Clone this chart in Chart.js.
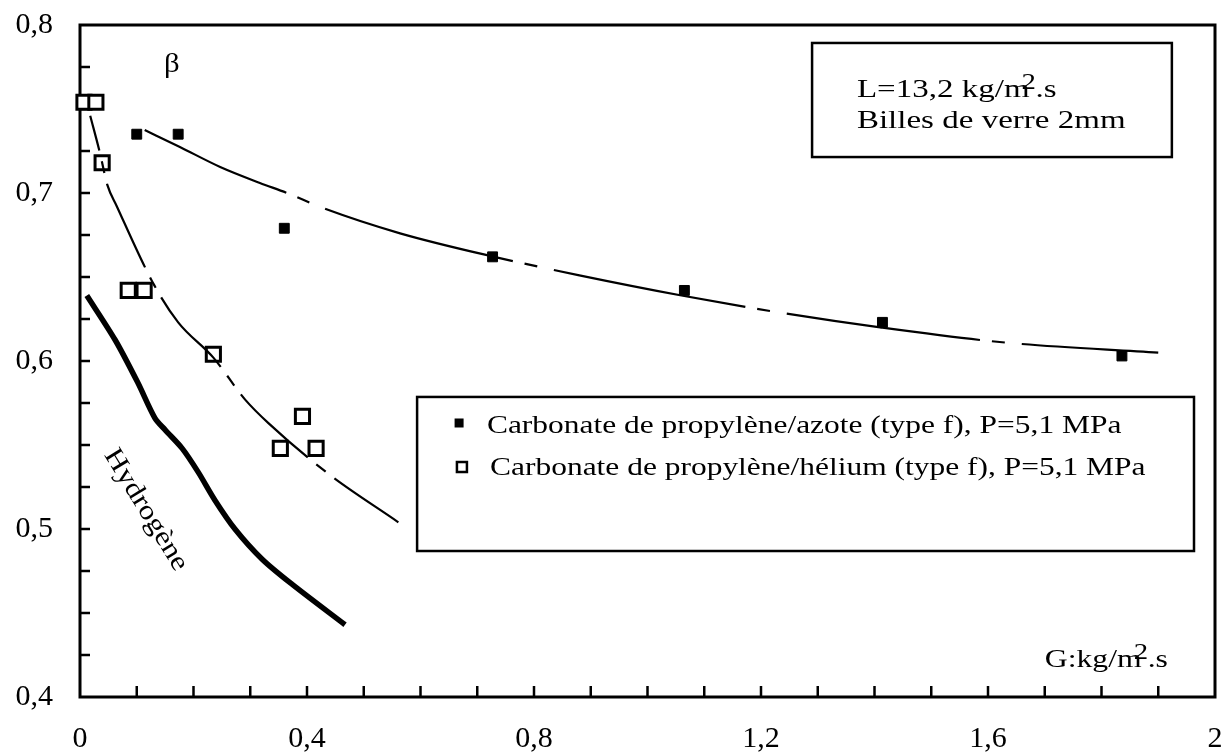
<!DOCTYPE html>
<html>
<head>
<meta charset="utf-8">
<script src="https://cdn.jsdelivr.net/npm/chart.js@4.4.0/dist/chart.umd.min.js"></script>
<style>
  body { margin: 0; background: #fff; }
  #cont { width: 1230px; height: 755px; position: relative; }
</style>
</head>
<body>
<div id="cont"><canvas id="grafico"></canvas></div>
<script>
// points mesurés
const azoteX = [0.10, 0.173, 0.36, 0.727, 1.065, 1.414, 1.836];
const azoteY = [0.735, 0.735, 0.679, 0.662, 0.642, 0.623, 0.603];
const heliumX = [0.007, 0.028, 0.039, 0.085, 0.113, 0.235, 0.353, 0.392, 0.416];
const heliumY = [0.754, 0.754, 0.718, 0.642, 0.642, 0.604, 0.548, 0.567, 0.548];

// courbes tracées
const azoteFitX = [0.114, 0.176, 0.247, 0.317, 0.365, 0.428, 0.564, 0.73, 0.88, 1.06, 1.23, 1.41, 1.63, 1.9];
const azoteFitY = [0.7375, 0.7274, 0.7155, 0.706, 0.700, 0.6911, 0.676, 0.662, 0.651, 0.639, 0.629, 0.620, 0.611, 0.605];
const heliumFitX = [0.018, 0.035, 0.048, 0.065, 0.131, 0.173, 0.235, 0.291, 0.332, 0.437, 0.561];
const heliumFitY = [0.746, 0.724, 0.705, 0.692, 0.645, 0.623, 0.602, 0.577, 0.563, 0.533, 0.504];
const hydrogeneX = [0.012, 0.062, 0.102, 0.132, 0.150, 0.180, 0.208, 0.238, 0.273, 0.321, 0.374, 0.467];
const hydrogeneY = [0.639, 0.6125, 0.587, 0.566, 0.559, 0.548, 0.534, 0.517, 0.500, 0.482, 0.467, 0.443];

// axes
const xTicks = [0, 0.4, 0.8, 1.2, 1.6, 2];
const xTickLabels = ['0', '0,4', '0,8', '1,2', '1,6', '2'];
const yTicks = [0.4, 0.5, 0.6, 0.7, 0.8];
const yTickLabels = ['0,4', '0,5', '0,6', '0,7', '0,8'];

const legendAzote = 'Carbonate de propylène/azote (type f), P=5,1 MPa';
const legendHelium = 'Carbonate de propylène/hélium (type f), P=5,1 MPa';

const police = '"Liberation Serif", "Times New Roman", serif';

function aPoints(xs, ys) {
    let pts = [];
    for (let i = 0; i < xs.length; i++) {
        pts.push({ x: xs[i], y: ys[i] });
    }
    return pts;
}

function texte(ctx, t, x, y, taille, etirement) {
    ctx.save();
    ctx.translate(x, y);
    ctx.scale(etirement, 1);
    ctx.font = taille + 'px ' + police;
    ctx.fillText(t, 0, 0);
    let w = ctx.measureText(t).width * etirement;
    ctx.restore();
    return w;
}

// cadre + graduations vers l'intérieur
const cadre = {
    id: 'cadre',
    beforeDatasetsDraw(chart) {
        const ctx = chart.ctx;
        const a = chart.chartArea;
        const sx = chart.scales.x, sy = chart.scales.y;
        ctx.save();
        ctx.strokeStyle = '#000';
        ctx.lineWidth = 3;
        ctx.strokeRect(a.left, a.top, a.right - a.left, a.bottom - a.top);
        ctx.lineWidth = 2.5;
        ctx.beginPath();
        for (let v = 0.1; v < 1.99; v += 0.1) {
            let px = sx.getPixelForValue(v);
            ctx.moveTo(px, a.bottom);
            ctx.lineTo(px, a.bottom - 11);
        }
        for (let v = 0.425; v < 0.799; v += 0.025) {
            let py = sy.getPixelForValue(v);
            ctx.moveTo(a.left, py);
            ctx.lineTo(a.left + 10, py);
        }
        ctx.stroke();
        ctx.restore();
    },
    afterDraw(chart) {
        const ctx = chart.ctx;
        const sx = chart.scales.x, sy = chart.scales.y;
        const X = v => sx.getPixelForValue(v);
        const Y = v => sy.getPixelForValue(v);
        ctx.save();
        ctx.fillStyle = '#000';
        ctx.strokeStyle = '#000';
        ctx.textBaseline = 'alphabetic';

        // beta
        texte(ctx, 'β', X(0.148), Y(0.772), 28, 1.1);

        // boite info
        ctx.lineWidth = 2.5;
        ctx.fillStyle = '#fff';
        ctx.fillRect(X(1.29), Y(0.7893), X(1.924) - X(1.29), Y(0.7214) - Y(0.7893));
        ctx.strokeRect(X(1.29), Y(0.7893), X(1.924) - X(1.29), Y(0.7214) - Y(0.7893));
        ctx.fillStyle = '#000';
        let x0 = X(1.369), y0 = Y(0.7571);
        let w = texte(ctx, 'L=13,2 kg/m', x0, y0, 26, 1.27);
        texte(ctx, '2', x0 + w - 8, y0 - 8, 24, 1.2);
        texte(ctx, '.s', x0 + w + 6, y0, 26, 1.27);
        texte(ctx, 'Billes de verre 2mm', X(1.369), Y(0.7387), 26, 1.27);

        // legende
        ctx.fillStyle = '#fff';
        ctx.fillRect(X(0.594), Y(0.5786), X(1.963) - X(0.594), Y(0.4869) - Y(0.5786));
        ctx.strokeRect(X(0.594), Y(0.5786), X(1.963) - X(0.594), Y(0.4869) - Y(0.5786));
        ctx.fillStyle = '#000';
        let m1x = X(0.668), m1y = Y(0.5631);
        ctx.fillRect(m1x - 4.5, m1y - 4.5, 9, 9);
        texte(ctx, legendAzote, X(0.717), Y(0.5571), 26, 1.21);
        let m2x = X(0.673), m2y = Y(0.5369);
        ctx.lineWidth = 2.5;
        ctx.strokeRect(m2x - 5, m2y - 5, 10, 10);
        texte(ctx, legendHelium, X(0.7225), Y(0.5321), 26, 1.21);

        // unite axe x
        let gx = X(1.70), gy = Y(0.4179);
        let wg = texte(ctx, 'G:kg/m', gx, gy, 26, 1.22);
        texte(ctx, '2', gx + wg - 8, gy - 8, 24, 1.2);
        texte(ctx, '.s', gx + wg + 6, gy, 26, 1.22);

        // Hydrogène
        ctx.save();
        ctx.translate(X(0.116), Y(0.5113));
        ctx.rotate(58.6 * Math.PI / 180);
        ctx.scale(1.15, 1);
        ctx.font = '27px ' + police;
        ctx.textAlign = 'center';
        ctx.textBaseline = 'middle';
        ctx.fillText('Hydrogène', 0, 0);
        ctx.restore();

        ctx.restore();
    }
};

const ctxG = document.getElementById('grafico');
const grafico = new Chart(ctxG, {
    type: 'scatter',
    data: {
        datasets: [
            {
                label: 'Hydrogène',
                data: aPoints(hydrogeneX, hydrogeneY),
                showLine: true,
                borderColor: '#000',
                borderWidth: 5.5,
                borderCapStyle: 'butt',
                pointRadius: 0,
                tension: 0.3,
                clip: false
            },
            {
                label: 'courbe azote',
                data: aPoints(azoteFitX, azoteFitY),
                showLine: true,
                borderColor: '#000',
                borderWidth: 2.2,
                borderDash: [195, 12, 13, 17],
                borderDashOffset: 40,
                pointRadius: 0,
                cubicInterpolationMode: 'monotone',
                clip: false
            },
            {
                label: 'courbe hélium',
                data: aPoints(heliumFitX, heliumFitY),
                showLine: true,
                borderColor: '#000',
                borderWidth: 2.2,
                borderDash: [92, 11, 12, 11],
                borderDashOffset: 56,
                pointRadius: 0,
                cubicInterpolationMode: 'monotone',
                clip: false
            },
            {
                label: legendAzote,
                data: aPoints(azoteX, azoteY),
                pointStyle: 'rect',
                pointRadius: 7,
                pointBackgroundColor: '#000',
                pointBorderColor: '#000',
                pointBorderWidth: 1,
                clip: false
            },
            {
                label: legendHelium,
                data: aPoints(heliumX, heliumY),
                pointStyle: 'rect',
                pointRadius: 10,
                pointBackgroundColor: '#fff',
                pointBorderColor: '#000',
                pointBorderWidth: 3,
                clip: false
            }
        ]
    },
    options: {
        responsive: true,
        maintainAspectRatio: false,
        animation: false,
        layout: { padding: { left: 0, top: 25, right: 15, bottom: 0 } },
        plugins: {
            legend: { display: false },
            tooltip: { enabled: false }
        },
        scales: {
            x: {
                type: 'linear',
                min: 0,
                max: 2,
                grid: { display: false, drawTicks: false, tickLength: 0 },
                border: { display: false },
                afterBuildTicks: s => { s.ticks = xTicks.map(v => ({ value: v })); },
                afterFit: s => { s.height = 58; s.paddingLeft = 0; s.paddingRight = 0; },
                ticks: {
                    color: '#000',
                    padding: 24,
                    maxRotation: 0,
                    font: { family: police, size: 30 },
                    callback: (v) => xTickLabels[xTicks.indexOf(v)]
                }
            },
            y: {
                type: 'linear',
                min: 0.4,
                max: 0.8,
                grid: { display: false, drawTicks: false, tickLength: 0 },
                border: { display: false },
                afterBuildTicks: s => { s.ticks = yTicks.map(v => ({ value: v })); },
                afterFit: s => { s.width = 80; s.paddingTop = 0; s.paddingBottom = 0; },
                ticks: {
                    color: '#000',
                    padding: 27,
                    font: { family: police, size: 30 },
                    callback: (v) => yTickLabels[yTicks.indexOf(v)]
                }
            }
        }
    },
    plugins: [cadre]
});
</script>
</body>
</html>
